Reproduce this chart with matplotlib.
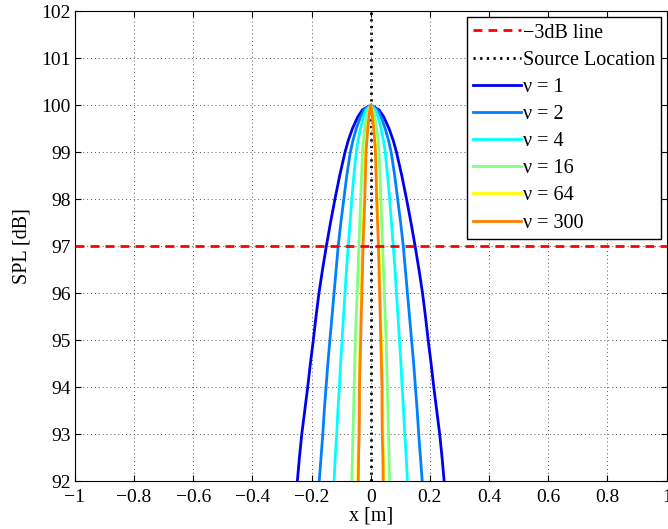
import numpy as np
import matplotlib
matplotlib.use("Agg")
import matplotlib.pyplot as plt

# SPL levels (dB) at which the beam half-width is tabulated
spl_levels = [100.0, 99.9, 99.75, 99.5, 99.25, 99.0, 98.5, 98.0, 97.5, 97.0,
              96.5, 96.0, 95.5, 95.0, 94.5, 94.0, 93.5, 93.0, 92.5, 92.0]

# half-width of the beam (m) at each SPL level, per nu
hw_nu1 = [0.0, 0.028, 0.044, 0.062, 0.076, 0.087, 0.105, 0.121, 0.136, 0.150,
          0.163, 0.175, 0.185, 0.194, 0.204, 0.213, 0.223, 0.233, 0.241, 0.248]
hw_nu2 = [0.0, 0.022, 0.035, 0.049, 0.060, 0.069, 0.081, 0.091, 0.101, 0.110,
          0.117, 0.124, 0.131, 0.138, 0.145, 0.151, 0.157, 0.162, 0.168, 0.174]
hw_nu4 = [0.0, 0.016, 0.025, 0.035, 0.043, 0.049, 0.057, 0.064, 0.070, 0.076,
          0.082, 0.087, 0.092, 0.097, 0.102, 0.106, 0.111, 0.115, 0.120, 0.124]
hw_nu16 = [0.0, 0.009, 0.014, 0.020, 0.025, 0.028, 0.031, 0.034, 0.037, 0.040,
           0.043, 0.046, 0.049, 0.052, 0.054, 0.056, 0.058, 0.060, 0.062, 0.064]
hw_nu64 = [0.0, 0.004, 0.007, 0.011, 0.015, 0.018, 0.020, 0.022, 0.025, 0.028,
           0.030, 0.032, 0.034, 0.036, 0.038, 0.040, 0.041, 0.041, 0.043, 0.044]
hw_nu300 = [0.0, 0.003, 0.006, 0.010, 0.013, 0.016, 0.018, 0.020, 0.023, 0.026,
            0.028, 0.030, 0.032, 0.034, 0.036, 0.038, 0.038, 0.039, 0.041, 0.042]

nu_labels = ["ν = 1", "ν = 2", "ν = 4", "ν = 16", "ν = 64", "ν = 300"]
nu_colors = ["#0000f0", "#0080ff", "#00ffff", "#80ff80", "#ffff00", "#ff8000"]

threshold_db = 97.0
source_x = 0.0

x_ticks = [-1, -0.8, -0.6, -0.4, -0.2, 0, 0.2, 0.4, 0.6, 0.8, 1]
x_tick_labels = ["\u22121", "\u22120.8", "\u22120.6", "\u22120.4", "\u22120.2", "0",
                 "0.2", "0.4", "0.6", "0.8", "1"]
y_ticks = [92, 93, 94, 95, 96, 97, 98, 99, 100, 101, 102]

plt.rcParams["font.family"] = ["Liberation Serif", "DejaVu Serif"]
plt.rcParams["font.size"] = 14.5

fig = plt.figure(figsize=(6.68, 5.29), dpi=100)
ax = fig.add_axes([0.112, 0.0907, 0.886, 0.888])

ax.axhline(threshold_db, color="red", linestyle=(0, (3.2, 2.2)), linewidth=2.0,
           label="\u22123dB line", zorder=5)
ax.axvline(source_x, color="black", linestyle=(0, (0.8, 1.6)), linewidth=2.0,
           label="Source Location", zorder=1)

spl = np.array(spl_levels)
for hw, lab, col in zip([hw_nu1, hw_nu2, hw_nu4, hw_nu16, hw_nu64, hw_nu300],
                        nu_labels, nu_colors):
    hw = np.array(hw)
    xs = np.concatenate([-hw[::-1], hw[1:]])
    ys = np.concatenate([spl[::-1], spl[1:]])
    ax.plot(xs, ys, color=col, linewidth=2.0, label=lab, zorder=3,
            solid_joinstyle="round")

ax.set_xlim(-1, 1)
ax.set_ylim(92, 102)
ax.set_xticks(x_ticks)
ax.set_yticks(y_ticks)
ax.set_xticklabels(x_tick_labels, fontsize=14)
ax.set_yticklabels([str(v) for v in y_ticks], fontsize=14)
ax.set_xlabel("x [m]", labelpad=0, fontsize=14.5)
ax.set_ylabel("SPL [dB]", labelpad=7, fontsize=14.5)

ax.grid(True, linestyle=(0, (1, 3)), color="#555555", linewidth=0.7)
ax.tick_params(direction="in", top=True, right=True, length=4, width=0.8)
ax.tick_params(axis="x", pad=6)
ax.tick_params(axis="y", pad=3)
for s in ax.spines.values():
    s.set_linewidth(0.8)

leg = ax.legend(loc="upper right", bbox_to_anchor=(0.991, 0.987), fancybox=False,
                framealpha=1, edgecolor="black", handlelength=2.4,
                handletextpad=0.1, borderpad=0.3, labelspacing=0.4,
                borderaxespad=0.0, fontsize=14.5)
leg.get_frame().set_linewidth(1.0)

fig.savefig("out.png", dpi=100)
